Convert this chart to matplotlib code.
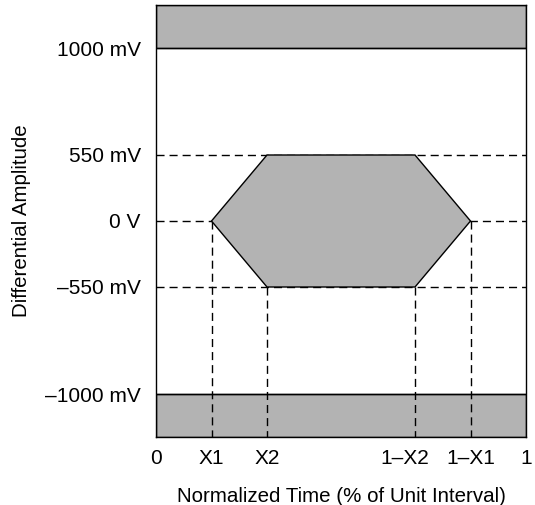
import numpy as np
import matplotlib
matplotlib.use('Agg')
import matplotlib.pyplot as plt
import matplotlib.transforms as mtransforms
from matplotlib.patches import Polygon, Rectangle

plt.rcParams['font.family'] = ['Liberation Sans', 'DejaVu Sans']

# amplitude levels (mV) and their schematic screen positions (not to scale)
levels_mv = [-1181, -1000, -550, 0, 550, 1000, 1181]
levels_pos = [-216, -173, -66, 0, 66, 173, 216]

ytick_vals = [1000, 550, 0, -550, -1000]
ytick_labels = ['1000 mV', '550 mV', '0 V', '\u2013550 mV', '\u20131000 mV']

# normalized time positions of the eye corners
x1 = 0.15
x2 = 0.30
xtick_vals = [0, x1, x2, 1 - x2, 1 - x1, 1]
xtick_labels = ['0', 'X1', 'X2', '1\u2013X2', '1\u2013X1', '1']

# hexagon mask (time, mV)
mask_x = [x1, x2, 1 - x2, 1 - x1, 1 - x2, x2]
mask_y = [0, 550, 550, 0, -550, -550]

outer_limit = 1000
ymax = 1181

gray = '#b3b3b3'


def fwd(v):
    return np.interp(v, levels_mv, levels_pos)


def inv(p):
    return np.interp(p, levels_pos, levels_mv)


fig = plt.figure(figsize=(5.35, 5.05), dpi=100)
ax = fig.add_axes([156 / 535, 68 / 505, 370 / 535, 432 / 505])
ax.set_yscale('function', functions=(fwd, inv))
ax.set_xlim(0, 1)
ax.set_ylim(-ymax, ymax)

dash = dict(color='black', lw=1, linestyle=(0, (5.8, 3.6)), zorder=1)

# horizontal dashed guides
for lvl in [550, 0, -550]:
    ax.plot([0, 1], [lvl, lvl], **dash)

# vertical dashed guides from the mask corners down
for xv, yv in zip(mask_x, mask_y):
    if yv <= 0:
        ax.plot([xv, xv], [yv, -ymax], **dash)

# forbidden regions above / below
ax.add_patch(Rectangle((0, outer_limit), 1, ymax - outer_limit,
                       facecolor=gray, edgecolor='black', lw=1, zorder=0))
ax.add_patch(Rectangle((0, -ymax), 1, ymax - outer_limit,
                       facecolor=gray, edgecolor='black', lw=1, zorder=0))
ax.plot([0, 1], [outer_limit, outer_limit], color='black', lw=1, zorder=2)
ax.plot([0, 1], [-outer_limit, -outer_limit], color='black', lw=1, zorder=2)

ax.add_patch(Polygon(list(zip(mask_x, mask_y)), closed=True,
                     facecolor=gray, edgecolor='black', lw=1, zorder=2))

ax.set_xticks(xtick_vals)
ax.set_xticklabels(xtick_labels)
ax.set_yticks(ytick_vals)
ax.set_yticklabels(ytick_labels)
ax.tick_params(length=0, labelsize=15, pad=11)
ax.tick_params(axis='x', pad=9)
ax.minorticks_off()
for s in ax.spines.values():
    s.set_linewidth(1)
    s.set_zorder(3)

# nudge the crowded x label like the original layout
shifts = {'1\u2013X2': -10}
for lab in ax.get_xticklabels():
    dx = shifts.get(lab.get_text(), 0)
    if dx:
        off = mtransforms.ScaledTranslation(dx / 100, 0, fig.dpi_scale_trans)
        lab.set_transform(lab.get_transform() + off)

ax.set_xlabel('Normalized Time (% of Unit Interval)', fontsize=14.8, labelpad=13)
ax.set_ylabel('Differential Amplitude', fontsize=14.8, labelpad=10)

fig.savefig('out.png', dpi=100)
